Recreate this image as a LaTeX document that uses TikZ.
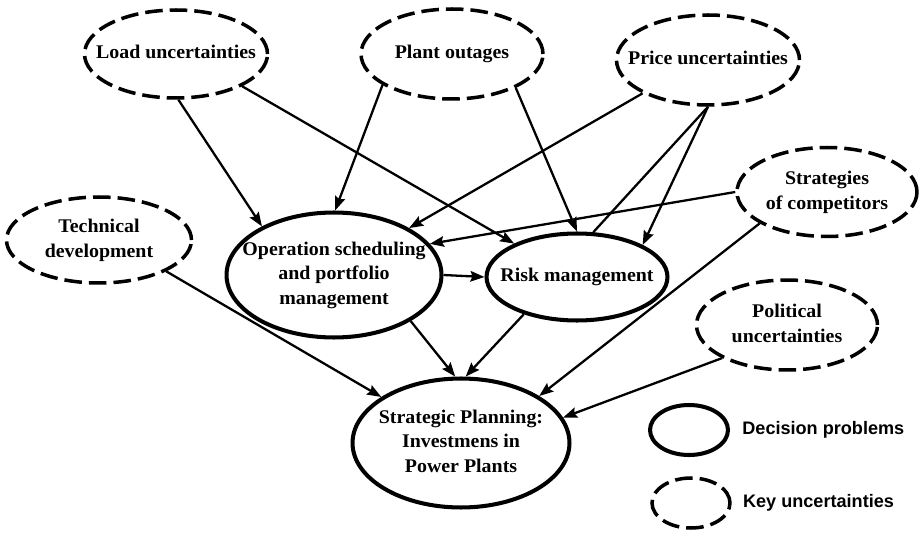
\documentclass[tikz,border=0pt]{standalone}
\usepackage{fontspec}
\setmainfont{Liberation Serif}[FakeStretch=1.03]
\setsansfont{Liberation Sans}
\usetikzlibrary{shapes.geometric,arrows.meta,positioning}

% text of fixed size ovals, kept out of the oval's size
\newcommand{\ovaltext}[1]{\makebox[0pt]{\raisebox{-0.25em}[0pt][0pt]{\begin{tabular}{@{}c@{}}#1\end{tabular}}}}

\tikzset{
	oval/.style={ellipse, draw, inner sep=0pt, font=\fontsize{11}{14}\selectfont\bfseries},
	decision/.style={oval, line width=2.3pt},
	uncertain/.style={oval, line width=2pt, dash pattern=on 10pt off 4pt},
	infl/.style={-{Stealth[length=8pt,width=6pt,inset=1.2pt]}, line width=1.3pt},
	legendtext/.style={inner sep=0pt, font=\fontsize{10.3}{12}\selectfont\sffamily\bfseries},
}

\begin{document}
\begin{tikzpicture}[x=0.02cm, y=-0.02cm]
		\useasboundingbox (0,0) rectangle (919,533);

		% key uncertainties
		\node [uncertain, minimum width=3.66cm, minimum height=1.76cm] (load) at (176,54) {\ovaltext{Load uncertainties}};
		\node [uncertain, minimum width=3.64cm, minimum height=1.80cm] (plant) at (452,54) {\ovaltext{Plant outages}};
		\node [uncertain, minimum width=3.66cm, minimum height=1.80cm] (price) at (708,60) {\ovaltext{Price uncertainties}};
		\node [uncertain, minimum width=3.60cm, minimum height=1.78cm] (strat) at (827,192) {\ovaltext{Strategies\\of competitors}};
		\node [uncertain, minimum width=3.70cm, minimum height=1.72cm] (tech) at (99,240) {\ovaltext{Technical\\development}};
		\node [uncertain, minimum width=3.62cm, minimum height=1.80cm] (pol) at (787,325) {\ovaltext{Political\\uncertainties}};

		% decision problems
		\node [decision, minimum width=4.30cm, minimum height=2.50cm] (ops) at (334,275) {\ovaltext{Operation scheduling\\and portfolio\\management}};
		\node [decision, minimum width=3.62cm, minimum height=1.74cm] (risk) at (577,277) {\ovaltext{Risk management}};
		\node [decision, minimum width=4.34cm, minimum height=2.58cm] (plan) at (461,443) {\ovaltext{Strategic Planning:\\Investmens in\\Power Plants}};

		\draw [infl] (load.-87) -- (ops.146);
		\draw [infl] (load.-26) -- (risk.152);
		\draw [infl] (plant.-156) -- (ops.89);
		\draw [infl] (plant.-28) -- (risk.90);
		\draw [infl] (price.-153) -- (ops.32);
		\draw [infl] (price.-90) -- (risk.26);
		\draw [line width=1.3pt] (price.-90) -- (risk.70);
		\draw [infl] (strat.180) -- (ops.18);
		\draw [infl] (strat.-155) -- (plan.31);
		\draw [infl] (tech.-25) -- (plan.150);
		\draw [infl] (ops.-31) -- (plan.95);
		\draw [infl] (ops.0) -- (risk.180);
		\draw [infl] (risk.-145) -- (plan.86);
		\draw [infl] (pol.-153) -- (plan.14);

		% legend
		\node [decision, minimum width=1.56cm, minimum height=1cm] (keydec) at (689,430) {};
		\node [uncertain, minimum width=1.56cm, minimum height=1cm] (keyunc) at (691,503) {};
		\node [legendtext, right=0.24cm of keydec] (keydectext) {Decision problems};
		\node [legendtext, right=0.22cm of keyunc] (keyunctext) {Key uncertainties};
	\end{tikzpicture}
\end{document}
